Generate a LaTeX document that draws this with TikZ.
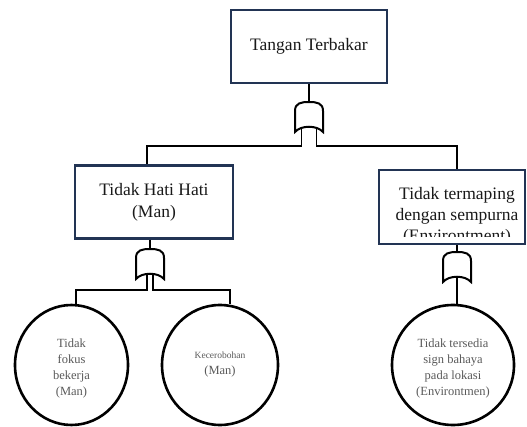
\documentclass[tikz,border=0pt]{standalone}
\usepackage{fontspec}
\setmainfont{Liberation Serif}
\usepackage{tikz}
\usetikzlibrary{positioning,shapes.geometric}
\definecolor{boxblue}{RGB}{34,52,84}

\begin{document}
\begin{tikzpicture}[x=1pt, y=-1pt,
        event/.style={draw=boxblue, line width=2.4pt, fill=white, minimum width=156pt, minimum height=73pt, inner sep=0pt, text=black!90, align=center, font=\fontsize{17.5}{22}\selectfont},
        basic/.style={ellipse, draw, line width=2.6pt, minimum height=120pt, inner sep=0pt, text=black!65, align=center, font=\fontsize{12.5}{16}\selectfont},
        wire/.style={line width=1.1pt},
        pics/gate/.style={code={
            \draw[line width=2pt, fill=white] (-14,30) -- (-14,9) .. controls (-14,1) and (-8,0) .. (0,0) .. controls (8,0) and (14,1) .. (14,9) -- (14,30) .. controls (8,23) and (-8,23) .. cycle;
            \coordinate (-top) at (0,0);
            \coordinate (-bot) at (0,25);
            \coordinate (-l) at (-#1,25);
            \coordinate (-r) at (#1,25);
        }}]
        \useasboundingbox (0,0) rectangle (527,427);
        \coordinate (bus1) at (0,146);
        \coordinate (bus2) at (0,290);

        \node[event] (top) at (309,46.5) {Tangan Terbakar};
        \node[event, minimum width=158pt] (hati) at (154,202) {Tidak Hati Hati\\(Man)};
        \node[event, minimum width=146pt, minimum height=74pt] (tempat) at (452,207) {};
        \begin{scope}
            \clip ([xshift=1pt,yshift=-1pt]tempat.north west) rectangle ([xshift=-1pt,yshift=9pt]tempat.south east);
            \node[text=black!90, align=center, font=\fontsize{17.5}{21}\selectfont, anchor=north] at (457,184) {Tidak termaping\\dengan sempurna\\(Environtment)};
        \end{scope}

        \node[basic, minimum width=113pt] (c1) at (71.5,365) {\rule{0pt}{16pt}Tidak\\fokus\\bekerja\\(Man)};
        \node[basic, minimum width=116pt] (c2) at (220,365) {{\fontsize{9.5}{14}\selectfont Kecerobohan}\\(Man)};
        \node[basic, minimum width=122pt] (c3) at (453,365) {\rule{0pt}{16pt}Tidak tersedia\\sign bahaya\\pada lokasi\\(Environtmen)};

        \pic (g1) at (309,102) {gate=7.5};
        \pic (g2) at (150,249) {gate=3};
        \pic (g3) at (457,252) {gate=0};

        \draw[wire] (top) -- (g1-top);
        \draw[wire] (g1-l) -- (g1-l |- bus1) -| ([xshift=-7pt]hati.north);
        \draw[wire] (g1-r) -- (g1-r |- bus1) -| ([xshift=5pt]tempat.north);
        \draw[wire] ([xshift=-4pt]hati.south) -- (g2-top);
        \draw[wire] (g2-l) -- (g2-l |- bus2) -| ([xshift=4.5pt]c1.north);
        \draw[wire] (g2-r) -- (g2-r |- bus2) -| ([xshift=10pt]c2.north);
        \draw[wire] ([xshift=5pt]tempat.south) -- (g3-top);
        \draw[wire] (g3-bot) -- ([xshift=4pt]c3.north);
\end{tikzpicture}
\end{document}
